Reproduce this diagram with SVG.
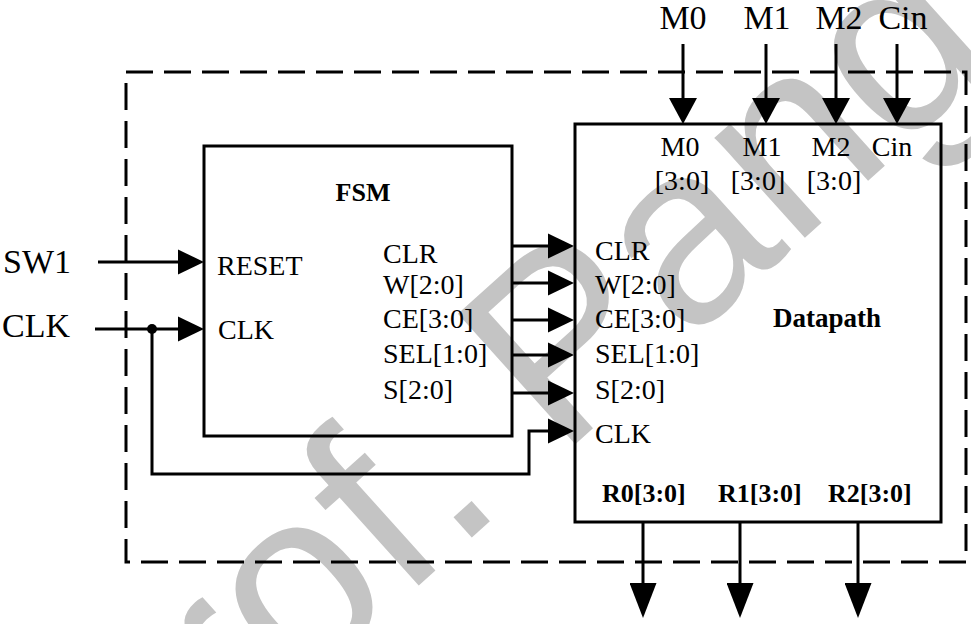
<svg xmlns="http://www.w3.org/2000/svg" width="971" height="624" viewBox="0 0 971 624">
<style>
  .ln{fill:none;stroke:#000;stroke-width:3}
  .box{fill:none;stroke:#000;stroke-width:3}
  .dash{fill:none;stroke:#000;stroke-width:3;stroke-dasharray:27 11}
  .t{font-family:"Liberation Serif","Times New Roman",serif;fill:#000}
  .big{font-size:34px}
  .port{font-size:28px}
  .bold{font-size:26px;font-weight:bold}
  .wm{font-family:"Liberation Sans",Arial,sans-serif;font-size:255px;fill:#c4c4c4}
</style>
<defs>
  <marker id="arr" markerUnits="userSpaceOnUse" markerWidth="26" markerHeight="26" refX="18" refY="12.5" orient="auto" viewBox="0 0 26 25">
    <path d="M0,0 L26,12.5 L0,25 Z" fill="#000"/>
  </marker>
  <marker id="arrT" markerUnits="userSpaceOnUse" markerWidth="26" markerHeight="28" refX="18" refY="14" orient="auto" viewBox="0 0 26 28">
    <path d="M0,0 L26,14 L0,28 Z" fill="#000"/>
  </marker>
  <marker id="arrB" markerUnits="userSpaceOnUse" markerWidth="35" markerHeight="27" refX="27" refY="13.5" orient="auto" viewBox="0 0 35 27">
    <path d="M0,0 L35,13.5 L0,27 Z" fill="#000"/>
  </marker>
</defs>
<rect width="971" height="624" fill="#fff"/>
<text class="wm" transform="translate(107,866) rotate(-42)">Prof. Pang</text>

<g id="boundary">
  <rect class="dash" x="126" y="72" width="840" height="490"/>
</g>

<g id="fsm">
  <rect class="box" x="204" y="146" width="308" height="290"/>
  <text class="t bold" x="363" y="201" text-anchor="middle">FSM</text>
  <text class="t port" x="217" y="275">RESET</text>
  <text class="t port" x="218" y="339">CLK</text>
  <text class="t port" x="383" y="263">CLR</text>
  <text class="t port" x="383" y="294">W[2:0]</text>
  <text class="t port" x="383" y="328">CE[3:0]</text>
  <text class="t port" x="383" y="363">SEL[1:0]</text>
  <text class="t port" x="383" y="399">S[2:0]</text>
</g>

<g id="datapath">
  <rect class="box" x="575" y="124" width="366" height="398"/>
  <text class="t port" x="680" y="156" text-anchor="middle">M0</text>
  <text class="t port" x="682" y="190" text-anchor="middle">[3:0]</text>
  <text class="t port" x="762" y="156" text-anchor="middle">M1</text>
  <text class="t port" x="758" y="190" text-anchor="middle">[3:0]</text>
  <text class="t port" x="831" y="156" text-anchor="middle">M2</text>
  <text class="t port" x="834" y="190" text-anchor="middle">[3:0]</text>
  <text class="t port" x="892" y="156" text-anchor="middle">Cin</text>
  <text class="t port" x="595" y="260">CLR</text>
  <text class="t port" x="595" y="294">W[2:0]</text>
  <text class="t port" x="595" y="328">CE[3:0]</text>
  <text class="t port" x="595" y="363">SEL[1:0]</text>
  <text class="t port" x="595" y="399">S[2:0]</text>
  <text class="t port" x="595" y="443">CLK</text>
  <text class="t bold" x="827" y="327" text-anchor="middle" style="font-size:27px">Datapath</text>
  <text class="t bold" x="602" y="502">R0[3:0]</text>
  <text class="t bold" x="718" y="502">R1[3:0]</text>
  <text class="t bold" x="828" y="502">R2[3:0]</text>
</g>

<g id="external-labels">
  <text class="t big" x="3" y="273">SW1</text>
  <text class="t big" x="2" y="337">CLK</text>
  <text class="t big" x="683" y="29" text-anchor="middle">M0</text>
  <text class="t big" x="767" y="29" text-anchor="middle">M1</text>
  <text class="t big" x="839" y="29" text-anchor="middle">M2</text>
  <text class="t big" x="903" y="29" text-anchor="middle">Cin</text>
</g>

<g id="connectors">
  <line class="ln" x1="98" y1="262" x2="196" y2="262" marker-end="url(#arr)"/>
  <line class="ln" x1="95" y1="329" x2="196" y2="329" marker-end="url(#arr)"/>
  <circle cx="152" cy="329" r="5" fill="#000"/>
  <path class="ln" d="M152,329 V474 H529 V431 H566" marker-end="url(#arr)"/>
  <line class="ln" x1="512" y1="246" x2="566" y2="246" marker-end="url(#arr)"/>
  <line class="ln" x1="512" y1="283" x2="566" y2="283" marker-end="url(#arr)"/>
  <line class="ln" x1="512" y1="320" x2="566" y2="320" marker-end="url(#arr)"/>
  <line class="ln" x1="512" y1="355" x2="566" y2="355" marker-end="url(#arr)"/>
  <line class="ln" x1="512" y1="393" x2="566" y2="393" marker-end="url(#arr)"/>
  <line class="ln" x1="683" y1="44" x2="683" y2="116" marker-end="url(#arrT)"/>
  <line class="ln" x1="766" y1="44" x2="766" y2="116" marker-end="url(#arrT)"/>
  <line class="ln" x1="836" y1="44" x2="836" y2="116" marker-end="url(#arrT)"/>
  <line class="ln" x1="897" y1="44" x2="897" y2="116" marker-end="url(#arrT)"/>
  <line class="ln" x1="643" y1="522" x2="643" y2="610" marker-end="url(#arrB)"/>
  <line class="ln" x1="740" y1="522" x2="740" y2="610" marker-end="url(#arrB)"/>
  <line class="ln" x1="858" y1="522" x2="858" y2="610" marker-end="url(#arrB)"/>
</g>
</svg>
